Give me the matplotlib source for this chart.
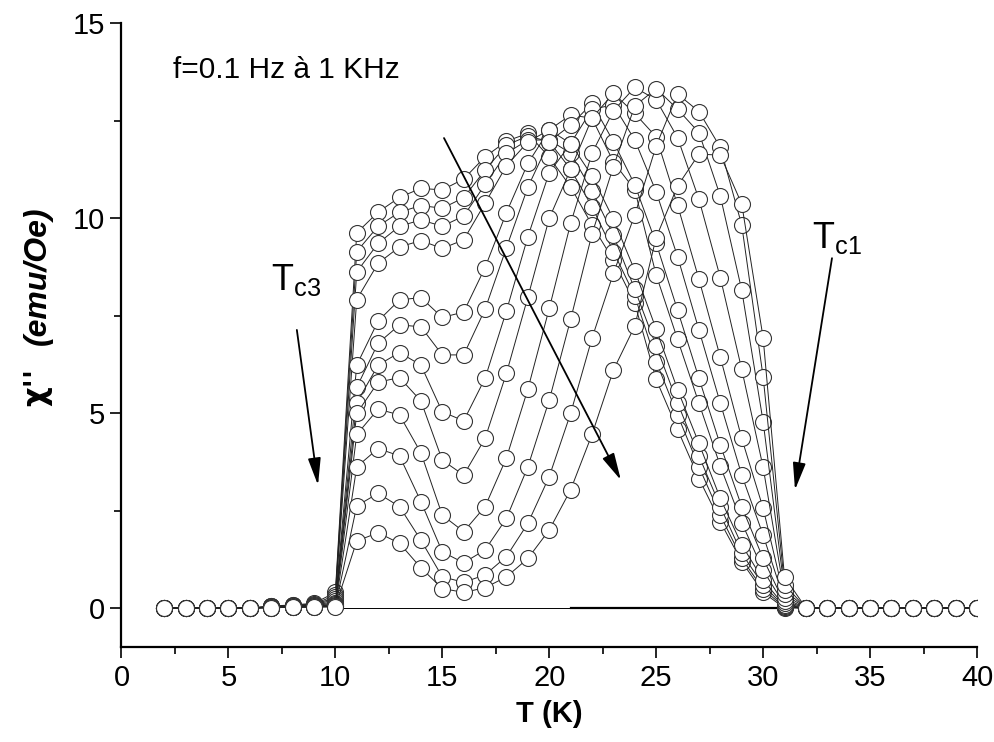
import numpy as np
import matplotlib.pyplot as plt

plt.rcParams['font.family'] = ['Liberation Sans', 'DejaVu Sans']

# temperature grid of the measured points (K)
T_head = [2, 3, 4, 5, 6]
T_main = list(range(7, 32))
T_tail = list(range(32, 41))
chi_head = [0, 0, 0, 0, 0]
chi_tail = [0, 0, 0, 0, 0, 0, 0, 0, 0]

# chi'' (emu/Oe) for T = 7 ... 31 K, lowest frequency first
s1 = [0.05, 0.08, 0.12, 0.40, 9.62, 10.15, 10.53, 10.76, 10.72, 11.00, 11.57, 11.97, 12.17,
      11.56, 10.80, 9.82, 8.92, 7.81, 5.86, 4.58, 3.32, 2.21, 1.19, 0.40, 0.00]
s2 = [0.04, 0.07, 0.10, 0.33, 9.14, 9.79, 10.15, 10.32, 10.25, 10.52, 11.23, 11.87, 12.10,
      11.96, 11.25, 10.29, 9.14, 8.00, 6.32, 4.95, 3.62, 2.38, 1.27, 0.48, 0.02]
s3 = [0.04, 0.06, 0.09, 0.27, 8.62, 9.35, 9.79, 9.95, 9.79, 10.05, 10.86, 11.66, 12.00,
      12.00, 11.66, 10.70, 9.56, 8.17, 6.72, 5.26, 3.90, 2.60, 1.40, 0.59, 0.03]
s4 = [0.03, 0.05, 0.08, 0.22, 7.91, 8.84, 9.26, 9.42, 9.22, 9.44, 10.38, 11.34, 11.95,
      12.26, 11.91, 11.08, 9.97, 8.65, 7.15, 5.60, 4.22, 2.81, 1.62, 0.72, 0.05]
s5 = [0.03, 0.05, 0.07, 0.17, 6.23, 7.36, 7.90, 7.96, 7.45, 7.59, 8.73, 10.14, 11.40,
      12.26, 12.64, 12.56, 11.44, 10.72, 8.54, 6.89, 5.25, 3.64, 2.19, 0.97, 0.08]
s6 = [0.02, 0.04, 0.06, 0.13, 5.66, 6.79, 7.26, 7.21, 6.49, 6.49, 7.66, 9.24, 10.79,
      11.96, 12.38, 12.94, 11.96, 10.85, 9.35, 7.64, 5.89, 4.18, 2.60, 1.27, 0.12]
s7 = [0.02, 0.04, 0.05, 0.10, 5.26, 6.23, 6.55, 6.23, 5.03, 4.80, 5.89, 7.62, 9.52,
      11.16, 11.91, 12.79, 12.90, 12.00, 10.67, 9.01, 7.13, 5.25, 3.41, 1.87, 0.18]
s8 = [0.02, 0.03, 0.05, 0.08, 4.99, 5.79, 5.91, 5.31, 3.79, 3.41, 4.35, 6.02, 7.97,
      9.99, 11.25, 12.56, 13.20, 12.68, 12.08, 10.33, 8.43, 6.43, 4.35, 2.56, 0.25]
s9 = [0.01, 0.03, 0.04, 0.06, 4.45, 5.10, 4.95, 3.98, 2.38, 1.96, 2.60, 3.85, 5.61,
      7.68, 9.86, 11.66, 12.75, 13.35, 13.03, 12.06, 10.48, 8.47, 6.12, 3.61, 0.35]
s10 = [0.01, 0.02, 0.03, 0.05, 3.62, 4.09, 3.90, 2.73, 1.44, 1.16, 1.49, 2.30, 3.62,
       5.33, 7.40, 9.59, 11.32, 12.87, 13.32, 12.79, 12.19, 10.56, 8.15, 4.78, 0.46]
s11 = [0.01, 0.02, 0.03, 0.04, 2.62, 2.94, 2.60, 1.74, 0.80, 0.66, 0.85, 1.32, 2.17,
       3.37, 4.99, 6.92, 8.58, 10.08, 11.85, 13.18, 12.73, 11.81, 9.82, 5.93, 0.60]
s12 = [0.01, 0.02, 0.02, 0.03, 1.72, 1.93, 1.66, 1.03, 0.50, 0.40, 0.52, 0.80, 1.27,
       2.00, 3.03, 4.45, 6.10, 7.23, 9.50, 10.82, 11.64, 11.61, 10.36, 6.93, 0.80]
series = [s1, s2, s3, s4, s5, s6, s7, s8, s9, s10, s11, s12]

# zero baseline drawn between the transitions
base_T = [10, 31]
base_thick_T = [21, 31]

fig = plt.figure(figsize=(9.94, 7.42), dpi=100)
ax = fig.add_axes([0.1222, 0.128, 0.8607, 0.841])

ax.plot(base_T, [0, 0], color='black', lw=0.7, zorder=1)
ax.plot(base_thick_T, [0, 0], color='black', lw=1.6, zorder=1)

T_all = T_head + T_main + T_tail
for s in series:
    ax.plot(T_all, chi_head + s + chi_tail, color='#222222', lw=0.7,
            marker='o', ms=11.5, mfc='white', mec='#333333', mew=0.8, zorder=2)

ax.set_xlim(0, 40)
ax.set_ylim(-1, 15)
ax.set_xticks(np.arange(0, 41, 5))
ax.set_xticks(np.arange(2.5, 40, 5), minor=True)
ax.set_yticks([0, 5, 10, 15])
ax.set_yticks([2.5, 7.5, 12.5], minor=True)
ax.tick_params(which='major', direction='out', length=8, width=1.2, labelsize=21, pad=4)
ax.tick_params(which='minor', direction='out', length=5, width=1.2)
for side in ['top', 'right']:
    ax.spines[side].set_visible(False)
for side in ['left', 'bottom']:
    ax.spines[side].set_linewidth(1.6)

ax.set_xlabel('T (K)', fontsize=21, fontweight='bold', labelpad=6)
fig.text(0.038, 0.478, "χ''", rotation=90, fontsize=22, fontweight='bold',
         family='DejaVu Sans', ha='center', va='center')
fig.text(0.038, 0.628, '(emu/Oe)', rotation=90, fontsize=23, fontweight='bold',
         fontstyle='italic', ha='center', va='center')

ax.text(2.4, 13.8, 'f=0.1 Hz à 1 KHz', fontsize=21.5, ha='left', va='center')
ax.text(7.0, 8.4, r'$\mathregular{T_{c3}}$', fontsize=26, ha='left', va='center')
ax.text(32.3, 9.5, r'$\mathregular{T_{c1}}$', fontsize=26, ha='left', va='center')

arrow = dict(arrowstyle='-|>,head_length=0.55,head_width=0.13', color='black', lw=1.3,
             mutation_scale=30, shrinkA=0, shrinkB=0)
ax.annotate('', xy=(23.35, 3.28), xytext=(15.08, 12.05), arrowprops=arrow)
ax.annotate('', xy=(9.19, 3.15), xytext=(8.2, 7.13), arrowprops=arrow)
ax.annotate('', xy=(31.49, 3.03), xytext=(33.22, 8.97), arrowprops=arrow)

fig.savefig('out.png', dpi=100)
